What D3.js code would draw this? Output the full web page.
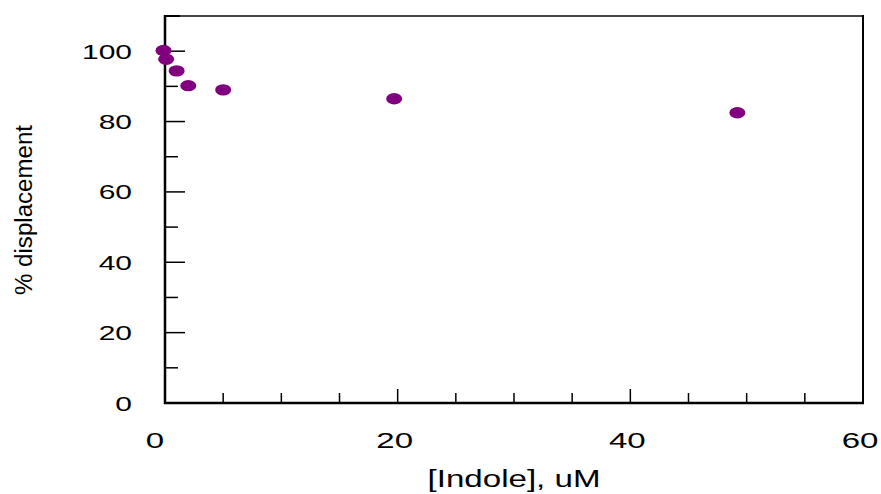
<!DOCTYPE html>
<html>
<head>
<meta charset="utf-8">
<script src="https://cdn.jsdelivr.net/npm/d3@7"></script>
<style>
  html, body { margin: 0; padding: 0; background: #fff; }
  svg { display: block; }
  text { font-family: "Liberation Sans", Arial, Helvetica, sans-serif; fill: #000; }
</style>
</head>
<body>
<svg id="chart" width="881" height="494"></svg>
<script>
// ---- data ----
const concentrations = [0, 0.1, 1, 2, 5, 19.7, 49.2];          // [Indole], uM
const displacement   = [100.2, 97.7, 94.4, 90.2, 89.0, 86.5, 82.5]; // % displacement
const xTickLabels = [0, 20, 40, 60];
const yTickLabels = [0, 20, 40, 60, 80, 100];
const xTitle = "[Indole], uM";
const yTitle = "% displacement";

// ---- layout ----
const W = 881, H = 494;
const margin = { left: 165, right: 18, top: 16, bottom: 91 };
const svg = d3.select("#chart");

const x = d3.scaleLinear().domain([0, 60]).range([margin.left, W - margin.right]);
const y = d3.scaleLinear().domain([0, 110]).range([H - margin.bottom, margin.top]);

const x0 = x(0), x1 = x(60), y0 = y(0), y1 = y(110);

// minor/major ticks (inward)
const xTicks = d3.range(0, 61, 5);
const yTicks = d3.range(0, 111, 10);

const tickG = svg.append("g");
tickG.selectAll("line.xt").data(xTicks.filter(v => v > 0 && v < 60)).join("line")
  .attr("x1", d => x(d)).attr("x2", d => x(d))
  .attr("y1", y0).attr("y2", d => y0 - (d % 20 === 0 ? 14 : 10))
  .attr("stroke", "#000").attr("stroke-width", 1.5);
tickG.selectAll("line.yt").data(yTicks.filter(v => v > 0 && v < 110)).join("line")
  .attr("y1", d => y(d)).attr("y2", d => y(d))
  .attr("x1", x0).attr("x2", d => x0 + (d % 20 === 0 ? 20 : 13))
  .attr("stroke", "#000").attr("stroke-width", 1.5);

// frame
svg.append("line").attr("x1", x0).attr("x2", x1).attr("y1", y1).attr("y2", y1)
  .attr("stroke", "#444").attr("stroke-width", 2);
svg.append("line").attr("x1", x0).attr("x2", x0 + 15).attr("y1", y1).attr("y2", y1)
  .attr("stroke", "#000").attr("stroke-width", 2);
svg.append("line").attr("x1", x1).attr("x2", x1).attr("y1", y1 - 1).attr("y2", y0)
  .attr("stroke", "#000").attr("stroke-width", 2);
svg.append("line").attr("x1", x0).attr("x2", x0).attr("y1", y1 - 1).attr("y2", y0 + 1)
  .attr("stroke", "#000").attr("stroke-width", 2.5);
svg.append("line").attr("x1", x0 - 1).attr("x2", x1 + 1).attr("y1", y0).attr("y2", y0)
  .attr("stroke", "#000").attr("stroke-width", 2.5);

// tick labels (stretched horizontally like the reference)
const sx = 1.5;
svg.append("g").selectAll("text").data(xTickLabels).join("text")
  .attr("transform", d => `translate(${x(d) - (d === 0 ? 10 : 3)},448) scale(${sx},1)`)
  .attr("text-anchor", "middle")
  .attr("font-size", 22)
  .text(d => d);
svg.append("g").selectAll("text").data(yTickLabels).join("text")
  .attr("transform", d => `translate(132,${y(d) + 7.5}) scale(${sx},1)`)
  .attr("text-anchor", "end")
  .attr("font-size", 20)
  .text(d => d);

// axis titles
svg.append("text")
  .attr("x", (x0 + x1) / 2).attr("y", 487)
  .attr("text-anchor", "middle")
  .attr("font-size", 23)
  .attr("textLength", 173).attr("lengthAdjust", "spacingAndGlyphs")
  .text(xTitle);
svg.append("text")
  .attr("transform", `translate(32,210) rotate(-90)`)
  .attr("text-anchor", "middle")
  .attr("font-size", 23)
  .attr("textLength", 170).attr("lengthAdjust", "spacingAndGlyphs")
  .text(yTitle);

// points
const pts = concentrations.map((c, i) => ({ c, v: displacement[i] }));
svg.append("g").selectAll("ellipse").data(pts).join("ellipse")
  .attr("cx", d => x(d.c) - (d.c === 0 ? 1.5 : 0))
  .attr("cy", d => y(d.v))
  .attr("rx", 8).attr("ry", 5.7)
  .attr("fill", "#800080");
</script>
</body>
</html>
